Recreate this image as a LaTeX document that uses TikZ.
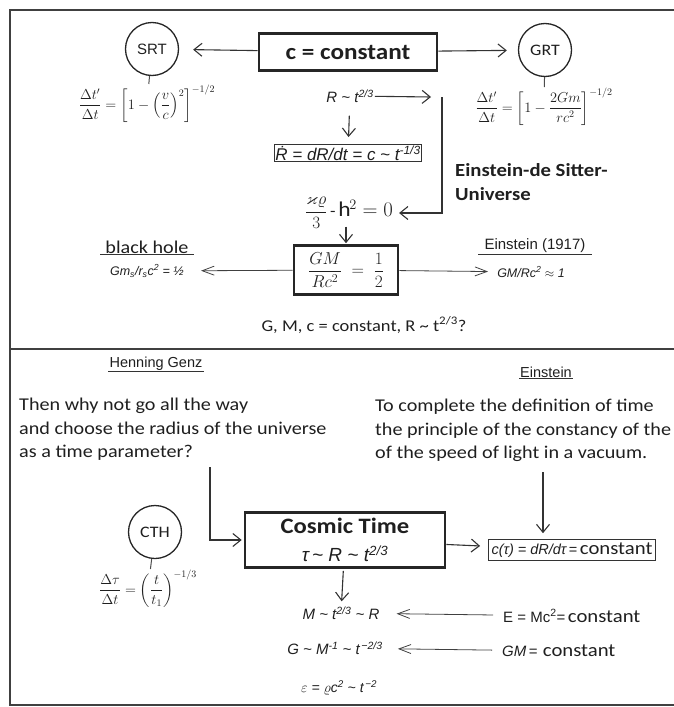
\documentclass[tikz,border=0pt]{standalone}
\usepackage{amsmath,amssymb}
\usepackage{fontspec}
\setmainfont{Carlito}[FakeStretch=1.12]
\newfontfamily\arialf{Liberation Sans}
\usetikzlibrary{arrows.meta,positioning}
\tikzset{
  thickbox/.style={draw=black!85, line width=2.6pt, inner sep=2pt, align=center},
  thinbox/.style={draw=black!80, line width=0.9pt, inner xsep=4pt, inner ysep=3pt},
  theory/.style={draw=black!85, circle, line width=1.3pt, minimum size=53pt, inner sep=0pt,
    font=\fontsize{16}{18}\selectfont},
  arr/.style={-{Straight Barb[length=8pt,width=13pt,line width=1.1pt]}, line width=1.1pt, draw=black!80},
  thinarr/.style={-{Straight Barb[length=12pt,width=9pt,line width=0.8pt]}, line width=0.8pt, draw=black!75},
  stem/.style={draw=black!70, line width=1pt},
  frame/.style={draw=black!75, line width=1.6pt},
  rulel/.style={draw=black!80, line width=1pt},
  mathf/.style={inner sep=1pt, font=\fontsize{14}{16}\selectfont},
  formula/.style={inner sep=1pt, font=\arialf\itshape\fontsize{15}{17}\selectfont},
  smallformula/.style={inner sep=1pt, font=\arialf\itshape\fontsize{12.5}{14}\selectfont},
  quote/.style={align=left, anchor=north west, inner sep=0pt, font=\fontsize{18}{23.5}\selectfont},
  source/.style={inner sep=1pt, font=\arialf\fontsize{14.5}{16}\selectfont}
}
\newcommand{\tl}{\textasciitilde{}}

\begin{document}
\begin{tikzpicture}[x=1pt, y=-1pt, text=black!88]
  \useasboundingbox (0,0) rectangle (674,707);
  % frame and divider
  \draw[frame] (674,10) -- (10,10) -- (10,705) -- (674,705);
  \draw[frame] (10,349) -- (674,349);

  % --- upper part: c = constant
  \node[thickbox, minimum width=178, minimum height=37, font=\bfseries\fontsize{22.5}{26}\selectfont] (c) at (348,52) {c = constant};
  \node[theory, font=\arialf\fontsize{15}{18}\selectfont] (srt) at (152,49) {SRT};
  \node[theory] (grt) at (545,50) {GRT};
  \draw[arr, shorten >=14pt] (c) -- (srt);
  \draw[arr, shorten >=11pt] (c) -- (grt);

  \node[mathf, anchor=north] (srtf) at (147,84) {$\displaystyle \frac{\Delta t'}{\Delta t}=\left[1-\left(\frac{v}{c}\right)^{2}\right]^{-1/2}$};
  \node[mathf, anchor=north] (grtf) at (544,87) {$\displaystyle \frac{\Delta t'}{\Delta t}=\left[1-\frac{2Gm}{rc^{2}}\right]^{-1/2}$};
  \draw[stem] (srt) -- (srtf);
  \draw[stem] (grt) -- (grtf);

  \node[formula] (rt) at (350,96) {R \tl{} t\textsuperscript{2/3}};
  \node[thinbox, formula, font=\arialf\itshape\fontsize{17}{18}\selectfont] (rdot) at (348,153) {\.{R} = dR/dt = c \tl{} t\textsuperscript{-1/3}};
  \draw[arr, shorten <=12pt, shorten >=7pt] (rt) -- (rdot);

  \node[inner sep=0pt] (fried) at (349,213) {\fontsize{16}{18}\selectfont$\dfrac{\varkappa\varrho}{3}$\,-\,{\fontsize{21}{24}\selectfont$\mathrm{h}^2=0$}};
  \coordinate (edsc) at (442,97);
  \draw[arr] (rt) -- ([xshift=-11pt]edsc);
  \draw[arr, shorten >=6pt] (edsc) |- (fried);
  \node[align=left, anchor=north west, inner sep=0pt, font=\bfseries\fontsize{18.5}{24}\selectfont] (eds) at (455,163) {Einstein-de Sitter-\\Universe};

  \node[thickbox, minimum width=104, minimum height=49] (gm) at (346,270) {\fontsize{18}{20}\selectfont$\displaystyle \frac{GM}{Rc^{2}} \;=\; \frac{1}{2}$};
  \draw[arr, shorten <=-2pt, shorten >=1pt] (fried.south -| gm.north) -- (gm);

  % black hole / Einstein 1917
  \node[inner xsep=5pt, inner ysep=1pt, font=\fontsize{18}{20}\selectfont] (bh) at (147,247) {black hole};
  \draw[rulel] (bh.south west) -- (bh.south east);
  \node[smallformula] (bhf) at (147,271) {Gm\textsubscript{s}/r\textsubscript{s}c\textsuperscript{2} = \textonehalf};
  \node[source, inner xsep=6pt, font=\arialf\fontsize{15}{17}\selectfont] (e17) at (535,246) {Einstein (1917)};
  \draw[rulel] (e17.south west) -- (e17.south east);
  \node[smallformula] (e17f) at (531,272) {GM/Rc\textsuperscript{2} \ensuremath{\approx} 1};
  \draw[thinarr, shorten >=16pt] (gm) -- (bhf);
  \draw[thinarr, shorten >=8pt] (gm) -- (e17f);

  \node[font=\fontsize{16.5}{20}\selectfont] (gmc) at (364,325) {G, M, c = constant, R \tl{} t\textsuperscript{2/3}?};

  % --- lower part: cosmic time
  \node[source] (hg) at (156,364) {Henning Genz};
  \draw[rulel] (hg.south west) -- (hg.south east);
  \node[quote] (hgq) at (19,398) {Then why not go all the way\\and choose the radius of the universe\\as a time parameter?};
  \node[source] (ein) at (546,372) {Einstein};
  \draw[rulel] (ein.south west) -- (ein.south east);
  \node[quote] (einq) at (375,399) {To complete the definition of time\\the principle of the constancy of the\\of the speed of light in a vacuum.};

  \node[thickbox, minimum width=200, minimum height=55, font=\fontsize{22}{28}\selectfont] (ct) at (345,540) {\textbf{Cosmic Time}\\{\arialf\itshape\fontsize{19}{21}\selectfont τ\,\tl{} R \tl{} t\textsuperscript{2/3}}};
  \node[theory] (cth) at (155,532) {CTH};
  \node[mathf, anchor=north] (cthf) at (148,569) {$\displaystyle \frac{\Delta\tau}{\Delta t}=\left(\frac{t}{t_{1}}\right)^{-1/3}$};
  \draw[stem] (cth) -- (cthf);

  \node[thinbox, inner sep=3pt] (ctau) at (572,550) {{\arialf\itshape\fontsize{14.5}{16}\selectfont c(τ) = dR/dτ} {\arialf\fontsize{14.5}{16}\selectfont=} {\fontsize{18.5}{20}\selectfont constant}};
  \coordinate (hgc) at (210,467);
  \coordinate (einc) at (543,472);
  \draw[arr, shorten >=2pt] (hgc) |- (ct);
  \draw[arr, shorten >=6pt] (einc) -- (einc |- ctau.north);
  \draw[arr, shorten >=8pt] (ct) -- (ctau);

  \node[formula] (mline) at (341,613) {M \tl{} t\textsuperscript{2/3} \tl{} R};
  \node[formula] (gline) at (335,648) {G \tl{} M\textsuperscript{-1} \tl{} t\textsuperscript{\,−2/3}};
  \node[formula, font=\arialf\itshape\fontsize{14}{16}\selectfont] (eline) at (339,688) {$\varepsilon$ = $\varrho$c\textsuperscript{2} \tl{} t\textsuperscript{\,−2}};
  \draw[arr, shorten <=2pt, shorten >=4pt] (ct) -- (mline);

  \node[anchor=west, inner sep=0pt] (emc) at (503,616) {{\arialf\fontsize{15}{17}\selectfont E = Mc\textsuperscript{2}=} {\fontsize{18.5}{20}\selectfont constant}};
  \node[anchor=west, inner sep=0pt] (gmconst) at (502,651) {{\arialf\itshape\fontsize{15}{17}\selectfont GM}{\arialf\fontsize{15}{17}\selectfont\,=}\; {\fontsize{18.5}{20}\selectfont constant}};
  \draw[thinarr, shorten <=10pt, shorten >=16pt] (emc) -- (mline);
  \draw[thinarr, shorten <=10pt, shorten >=14pt] (gmconst) -- (gline);
\end{tikzpicture}
\end{document}
